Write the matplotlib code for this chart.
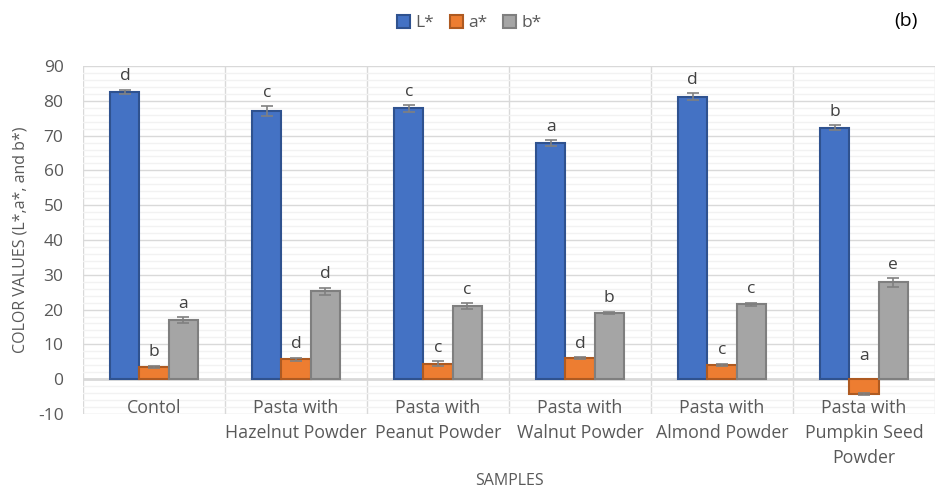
import numpy as np
import matplotlib
matplotlib.use('Agg')
import matplotlib.pyplot as plt
from matplotlib.ticker import MultipleLocator

plt.rcParams['font.family'] = ['Open Sans', 'DejaVu Sans']
plt.rcParams['axes.unicode_minus'] = False

samples = ['Contol', 'Pasta with\nHazelnut Powder', 'Pasta with\nPeanut Powder',
           'Pasta with\nWalnut Powder', 'Pasta with\nAlmond Powder',
           'Pasta with\nPumpkin Seed\nPowder']
series_names = ['L*', 'a*', 'b*']

L_vals = [82.5, 77.0, 77.8, 67.8, 81.2, 72.3]
a_vals = [3.5, 5.7, 4.5, 6.0, 4.2, -4.2]
b_vals = [17.0, 25.2, 21.0, 19.0, 21.5, 27.8]

L_err = [0.6, 1.4, 0.9, 0.8, 0.9, 0.7]
a_err = [0.3, 0.5, 0.6, 0.3, 0.3, 0.3]
b_err = [0.8, 1.0, 0.8, 0.3, 0.5, 1.2]

L_letters = ['d', 'c', 'c', 'a', 'd', 'b']
a_letters = ['b', 'd', 'c', 'd', 'c', 'a']
b_letters = ['a', 'd', 'c', 'b', 'c', 'e']

faces = ['#4472C4', '#ED7D31', '#A5A5A5']
edges = ['#2F528F', '#AE5A21', '#7F7F7F']
txt = '#595959'

fig = plt.figure(figsize=(9.39, 4.94), dpi=100)
ax = fig.add_axes([0.0884, 0.162, 0.9073, 0.7044])

x = np.arange(len(samples))
w = 0.205
values = [L_vals, a_vals, b_vals]
errs = [L_err, a_err, b_err]
letters = [L_letters, a_letters, b_letters]

for i in range(3):
    pos = x + (i - 1) * w
    ax.bar(pos, values[i], w, color=faces[i], edgecolor=edges[i], linewidth=1.5,
           label=series_names[i], zorder=3)
    ax.errorbar(pos, values[i], yerr=errs[i], fmt='none', ecolor='#808080',
                elinewidth=1.2, capsize=4, capthick=1.2, zorder=4)
    for p, v, e, s in zip(pos, values[i], errs[i], letters[i]):
        top = max(v, 0) + e
        dy = 4 if v >= 0 else 10
        ax.annotate(s, (p, top), xytext=(0, dy), textcoords='offset points',
                    ha='center', va='bottom', fontsize=12.5, color='#404040')

ax.set_xlim(-0.5, len(samples) - 0.5)
ax.set_ylim(-10, 90)
ax.yaxis.set_major_locator(MultipleLocator(10))
ax.yaxis.set_minor_locator(MultipleLocator(2))
ax.grid(axis='y', which='major', color='#D9D9D9', linewidth=1, zorder=0)
ax.grid(axis='y', which='minor', color='#F2F2F2', linewidth=1, zorder=0)
for b in np.arange(-0.5, len(samples), 1):
    ax.axvline(b, color='#D9D9D9', linewidth=1, zorder=1)
ax.axhline(0, color='#D9D9D9', linewidth=2, zorder=2)

for s in ax.spines.values():
    s.set_visible(False)
ax.set_xticks([])
ax.tick_params(axis='y', which='both', length=0, labelsize=12.5, labelcolor=txt, pad=14)

for xi, s in zip(x, samples):
    ax.annotate(s, (xi, 0), xytext=(0, -14), textcoords='offset points',
                ha='center', va='top', fontsize=12.8, color=txt, linespacing=1.5)

ax.set_ylabel('COLOR VALUES (L*,a*, and b*)', fontsize=11.5, color=txt)
ax.yaxis.set_label_coords(-0.064, 0.5)
fig.text(0.542, 0.027, 'SAMPLES', ha='center', va='center', fontsize=11.5, color=txt)

leg = fig.legend(loc='center', bbox_to_anchor=(0.5, 0.953), ncol=3, frameon=False,
                 fontsize=12.5, handlelength=0.75, handleheight=0.75, handletextpad=0.3,
                 columnspacing=0.9)
for t in leg.get_texts():
    t.set_color(txt)

fig.text(0.965, 0.957, '(b)', ha='center', va='center', fontsize=14, color='black')

fig.savefig('out.png', dpi=100)
